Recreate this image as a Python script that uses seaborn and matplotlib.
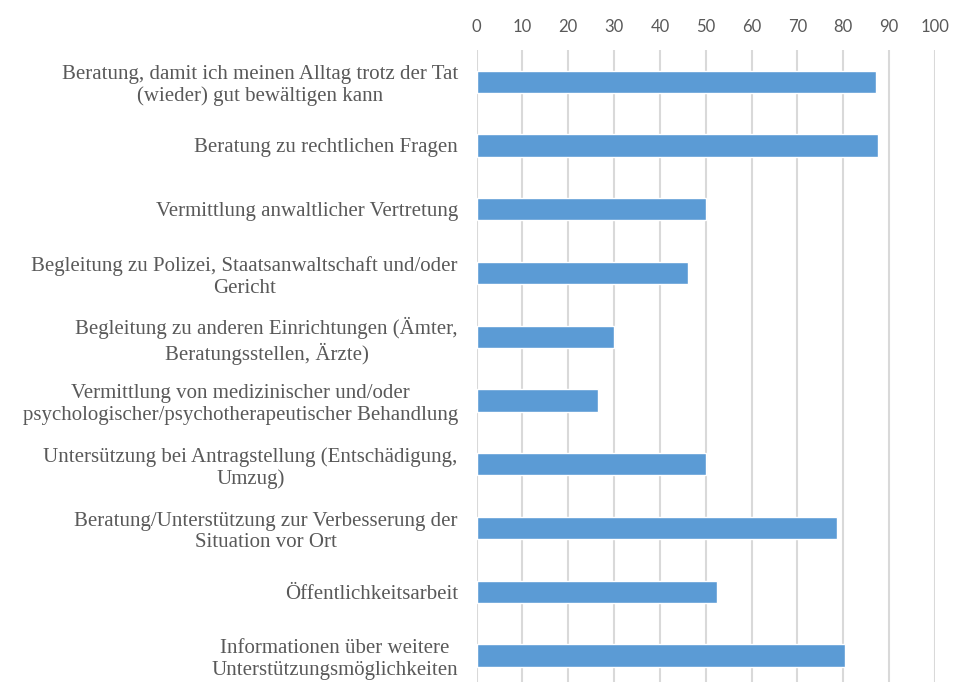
import seaborn as sns
import matplotlib.pyplot as plt
import pandas as pd

categories = [
    "Beratung, damit ich meinen Alltag trotz der Tat\n(wieder) gut bewältigen kann",
    "Beratung zu rechtlichen Fragen",
    "Vermittlung anwaltlicher Vertretung",
    "Begleitung zu Polizei, Staatsanwaltschaft und/oder\nGericht",
    "Begleitung zu anderen Einrichtungen (Ämter,\nBeratungsstellen, Ärzte)",
    "Vermittlung von medizinischer und/oder\npsychologischer/psychotherapeutischer Behandlung",
    "Untersützung bei Antragstellung (Entschädigung,\nUmzug)",
    "Beratung/Unterstützung zur Verbesserung der\nSituation vor Ort",
    "Öffentlichkeitsarbeit",
    "Informationen über weitere\nUnterstützungsmöglichkeiten",
]
values = [87.2, 87.5, 50, 46.2, 30, 26.5, 50, 78.6, 52.5, 80.4]
xticks = list(range(0, 101, 10))

df = pd.DataFrame({"kategorie": categories, "wert": values})

sns.set_style("white")
plt.rcParams["font.family"] = ["Liberation Serif", "DejaVu Serif"]

fig = plt.figure(figsize=(9.57, 6.82), dpi=100)
ax = fig.add_axes([0.498, -0.008, 0.479, 0.935])

sns.barplot(data=df, x="wert", y="kategorie", color="#5B9BD5", width=0.35,
            saturation=1, ax=ax, zorder=3)

ax.set_xlim(0, 100)
ax.set_ylim(9.5, -0.5)
ax.set_xticks(xticks)
ax.xaxis.tick_top()
ax.grid(axis="x", color="#d9d9d9", linewidth=1.5, zorder=0)
ax.set_axisbelow(True)
for s in ax.spines.values():
    s.set_visible(False)
ax.tick_params(axis="both", length=0, colors="#595959")
ax.tick_params(axis="y", pad=13.5, labelsize=15)
ax.tick_params(axis="x", pad=11, labelsize=12)
for lab in ax.get_xticklabels():
    lab.set_family(["Lato", "DejaVu Sans"])
for lab in ax.get_yticklabels():
    lab.set_multialignment("center")
    lab.set_linespacing(1.2)
ax.set_xlabel("")
ax.set_ylabel("")

plt.savefig("out.png", dpi=100)
